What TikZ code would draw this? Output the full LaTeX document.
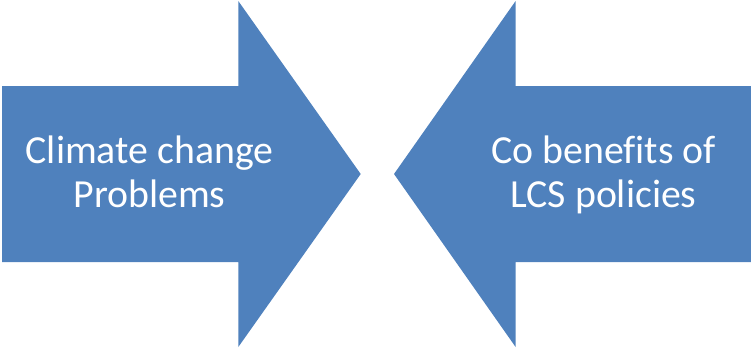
\documentclass[tikz,border=0pt]{standalone}
\usepackage{fontspec}
\setmainfont{Carlito}[Ligatures=CommonOff]
\definecolor{arrowblue}{HTML}{4F81BD}
\tikzset{
  bigarrow/.style={fill=arrowblue, draw=none},
  arrowtext/.style={text=white, align=center, font=\fontsize{39.8}{44}\selectfont, inner sep=0pt}
}
\begin{document}
\begin{tikzpicture}[x=1pt,y=1pt]
\useasboundingbox (0,0) rectangle (751,-351);
\path[bigarrow] (2,-86) -- (238.3,-86) -- (238.3,-1) -- (360.7,-174) -- (238.3,-347) -- (238.3,-262) -- (2,-262) -- cycle;
\path[bigarrow] (751,-86) -- (515.6,-86) -- (515.6,-1) -- (394,-174) -- (515.6,-347) -- (515.6,-262) -- (751,-262) -- cycle;
\node[arrowtext, anchor=base] (l1) at (149.5,-163) {Climate change};
\node[arrowtext, anchor=base] (l2) at (149.5,-207) {Problems};
\node[arrowtext, anchor=base] (r1) at (603.5,-163) {Co benefits of};
\node[arrowtext, anchor=base] (r2) at (603.5,-207) {LCS policies};
\end{tikzpicture}
\end{document}
